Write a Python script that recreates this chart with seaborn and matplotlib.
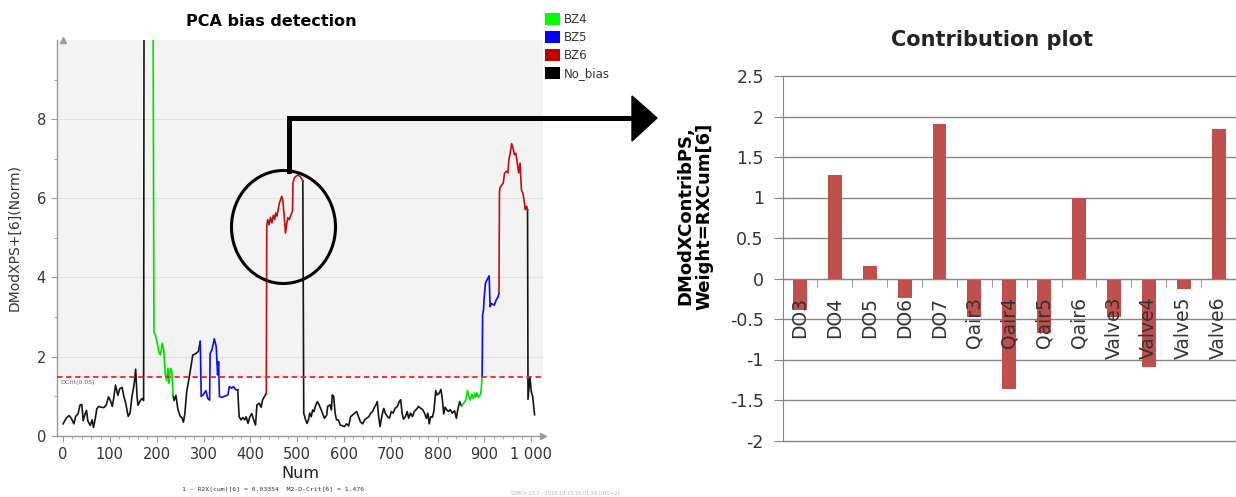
import numpy as np
import pandas as pd
import matplotlib
matplotlib.use('Agg')
import matplotlib.pyplot as plt
from matplotlib.patches import Ellipse, Polygon, Patch
import seaborn as sns

# ---- left chart: DModX line ----
seg_a_num = [0, 7, 13, 18, 23, 27, 32, 36, 40, 43, 47, 50, 53, 58, 62, 65, 69, 72, 76, 81, 87, 92, 97, 101, 105,
             108, 112, 117, 121, 126, 130, 134, 139, 143, 147, 152, 155, 158, 160, 165, 169, 172, 173]
seg_a_val = [0.30, 0.45, 0.51, 0.43, 0.30, 0.49, 0.55, 0.77, 0.79, 0.38, 0.55, 0.64, 0.37, 0.26, 0.40, 0.21, 0.45,
             0.68, 0.74, 0.72, 0.71, 0.77, 0.98, 0.89, 0.74, 0.94, 1.28, 1.02, 1.19, 1.22, 0.98, 0.81, 0.49, 0.57,
             0.98, 1.32, 1.68, 0.98, 0.77, 0.89, 0.94, 0.89, 12.0]
seg_b_num = [192, 194, 197, 201, 205, 208, 212, 215, 218, 221, 224, 226, 229, 232, 235]
seg_b_val = [12.0, 2.62, 2.55, 2.34, 2.09, 2.04, 2.34, 2.17, 1.57, 1.40, 1.70, 1.32, 1.70, 1.66, 1.02]
seg_c_num = [237, 241, 245, 250, 254, 257, 260, 264, 269, 273, 277, 283, 289, 293]
seg_c_val = [0.89, 1.02, 0.68, 0.49, 0.45, 0.34, 0.55, 1.11, 1.45, 1.74, 2.04, 2.07, 2.13, 2.38]
seg_d_num = [295, 299, 305, 309, 313, 314, 318, 323, 327, 330, 332, 334, 339, 346, 352, 355, 360, 364, 369, 373]
seg_d_val = [0.99, 1.03, 1.14, 0.94, 0.90, 2.08, 2.17, 2.45, 2.25, 1.54, 1.87, 0.99, 0.97, 1.00, 1.03, 1.24,
             1.20, 1.24, 1.16, 1.16]
seg_e_num = [376, 380, 384, 388, 391, 395, 399, 403, 407, 411, 414, 419, 423, 426, 430, 434]
seg_e_val = [0.48, 0.40, 0.46, 0.40, 0.48, 0.31, 0.48, 0.56, 0.40, 0.27, 0.78, 0.82, 0.72, 0.90, 0.99, 1.07]
seg_f_num = [435, 437, 440, 443, 446, 449, 452, 454, 457, 460, 462, 467, 469, 472, 475, 478, 480, 483, 487, 490,
             491, 494, 498, 502, 507, 510, 512]
seg_f_val = [5.29, 5.46, 5.33, 5.52, 5.38, 5.57, 5.46, 5.63, 5.55, 5.76, 5.88, 6.05, 5.97, 5.59, 5.12, 5.38,
             5.51, 5.46, 5.59, 5.67, 6.39, 6.52, 6.56, 6.59, 6.54, 6.48, 6.44]
seg_g_num = [514, 518, 521, 524, 527, 530, 533, 536, 538, 543, 546, 550, 554, 558, 563, 565, 570, 573, 575, 578,
             581, 584, 588, 592, 597, 601, 605, 610, 614, 618, 623, 627, 631, 635, 640, 644, 648, 653, 657, 661,
             665, 668, 671, 674, 677, 680, 683, 685, 688, 693, 697, 701, 705, 709, 714, 718, 721, 724, 727, 731,
             735, 738, 742, 746, 750, 755, 759, 763, 768, 772, 776, 779, 782, 785, 789, 792, 796, 799, 803, 807,
             810, 813, 816, 819, 823, 827, 831, 836, 840, 843, 847, 851]
seg_g_val = [0.57, 0.40, 0.31, 0.40, 0.57, 0.48, 0.65, 0.61, 0.72, 0.86, 0.80, 0.69, 0.57, 0.44, 0.52, 0.74,
             0.78, 0.65, 1.03, 0.99, 0.57, 0.40, 0.40, 0.27, 0.25, 0.23, 0.30, 0.25, 0.48, 0.52, 0.57, 0.61,
             0.48, 0.35, 0.30, 0.40, 0.44, 0.48, 0.57, 0.61, 0.72, 0.78, 0.86, 0.48, 0.23, 0.44, 0.61, 0.69,
             0.57, 0.48, 0.44, 0.61, 0.57, 0.69, 0.74, 0.86, 0.91, 0.57, 0.42, 0.48, 0.61, 0.44, 0.57, 0.48,
             0.61, 0.67, 0.74, 0.70, 0.66, 0.57, 0.44, 0.57, 0.30, 0.48, 0.47, 0.63, 1.14, 1.03, 1.07, 1.17,
             0.92, 0.55, 0.72, 0.66, 0.61, 0.66, 0.57, 0.63, 0.44, 0.66, 0.86, 0.75]
seg_h_num = [856, 860, 864, 867, 870, 873, 876, 879, 881, 884, 887, 891, 893, 895]
seg_h_val = [0.82, 0.90, 1.14, 0.99, 0.90, 1.05, 0.94, 1.08, 0.97, 1.08, 0.97, 1.03, 1.16, 1.50]
seg_i_num = [896, 898, 899, 902, 905, 910, 912, 915, 921, 925, 929, 931]
seg_i_val = [3.05, 3.18, 3.43, 3.85, 3.93, 4.04, 3.26, 3.34, 3.30, 3.43, 3.51, 3.60]
seg_j_num = [932, 933, 937, 940, 943, 947, 950, 952, 955, 958, 961, 964, 967, 970, 973, 976, 979, 982, 985,
             987, 990, 992]
seg_j_val = [6.17, 6.26, 6.34, 6.38, 6.64, 6.68, 6.64, 6.97, 7.14, 7.38, 7.27, 7.10, 7.14, 6.89, 6.64, 6.89,
             6.21, 6.13, 5.92, 5.71, 5.80, 5.71]
seg_k_num = [993, 997, 1000, 1003, 1007]
seg_k_val = [0.92, 1.48, 1.12, 0.98, 0.53]

segments = [('No_bias', seg_a_num, seg_a_val), ('BZ4', seg_b_num, seg_b_val), ('No_bias', seg_c_num, seg_c_val),
            ('BZ5', seg_d_num, seg_d_val), ('No_bias', seg_e_num, seg_e_val), ('BZ6', seg_f_num, seg_f_val),
            ('No_bias', seg_g_num, seg_g_val), ('BZ4', seg_h_num, seg_h_val), ('BZ5', seg_i_num, seg_i_val),
            ('BZ6', seg_j_num, seg_j_val), ('No_bias', seg_k_num, seg_k_val)]

legend_labels = ['BZ4', 'BZ5', 'BZ6', 'No_bias']
d_crit = 1.476

# ---- right chart: contribution bars ----
contrib_vars = ['DO3', 'DO4', 'DO5', 'DO6', 'DO7', 'Qair3', 'Qair4', 'Qair5', 'Qair6',
                'Valve3', 'Valve4', 'Valve5', 'Valve6']
contrib_vals = [-0.39, 1.28, 0.15, -0.24, 1.91, -0.48, -1.37, -0.67, 1.00, -0.48, -1.09, -0.13, 1.84]
contrib_ticks = [-2, -1.5, -1, -0.5, 0, 0.5, 1, 1.5, 2, 2.5]
contrib_ticklabels = ['-2', '-1.5', '-1', '-0.5', '0', '0.5', '1', '1.5', '2', '2.5']

line_colors = {'BZ4': '#00e000', 'BZ5': '#0a0aff', 'BZ6': '#c01010', 'No_bias': '#151515'}
legend_colors = {'BZ4': '#00ff00', 'BZ5': '#0000ff', 'BZ6': '#c00000', 'No_bias': '#000000'}

rows = []
prev = None
for i, (cat, xs, ys) in enumerate(segments):
    if prev is not None:
        rows.append((i, cat, prev[0], prev[1]))
    for x, y in zip(xs, ys):
        rows.append((i, cat, x, y))
    prev = (xs[-1], ys[-1])
df = pd.DataFrame(rows, columns=['seg', 'cat', 'Num', 'val'])

W, H = 1236, 497
fig = plt.figure(figsize=(W / 100, H / 100), dpi=100)

# left panel
ax1 = fig.add_axes([57 / W, 1 - 435.7 / H, (543 - 57) / W, (435.7 - 40) / H])
ax1.set_facecolor('white')
ax1.axhspan(d_crit, 10, color='#f3f3f3', lw=0, zorder=0)
for g in [2, 4, 6, 8]:
    ax1.axhline(g, color='#e2e2e2', lw=0.8, zorder=0.5)
sns.lineplot(data=df, x='Num', y='val', hue='cat', units='seg', estimator=None, sort=False,
             palette=line_colors, lw=1.2, legend=False, ax=ax1)
ax1.axhline(d_crit, color='#ff2020', lw=1.3, ls=(0, (3, 2)), zorder=3)
ax1.text(3 / 486, d_crit - 0.08, 'DCrit(0.05)', transform=ax1.get_yaxis_transform(),
         fontsize=4.5, color='#7a5a7a', va='top', ha='left')
ax1.set_xlim(-13, 1025)
ax1.set_ylim(0, 10)
ax1.set_xticks(np.arange(0, 1001, 100))
ax1.set_xticklabels([str(v) if v < 1000 else '1 000' for v in range(0, 1001, 100)])
ax1.set_xticks(np.arange(0, 1001, 20), minor=True)
ax1.set_yticks([0, 2, 4, 6, 8])
ax1.set_yticks(np.arange(0, 10, 1), minor=True)
for s in ['top', 'right']:
    ax1.spines[s].set_visible(False)
for s in ['left', 'bottom']:
    ax1.spines[s].set_color('#9a9a9a')
    ax1.spines[s].set_linewidth(1)
ax1.tick_params(which='major', length=4, color='#9a9a9a', labelsize=10.5, labelcolor='#333333', pad=4)
ax1.tick_params(which='minor', length=2.5, color='#9a9a9a')
ax1.plot(1, 0, '>', color='#9a9a9a', ms=4, transform=ax1.get_yaxis_transform(), clip_on=False)
ax1.plot(0, 1, '^', color='#9a9a9a', ms=4, transform=ax1.get_xaxis_transform(), clip_on=False)
ax1.set_xlabel('Num', fontsize=11.5, color='#222222', labelpad=3)
ax1.set_ylabel('DModXPS+[6](Norm)', fontsize=10, color='#333333', labelpad=11)
fig.text(271 / W, 1 - 22 / H, 'PCA bias detection', fontsize=11.5, fontweight='bold',
         ha='center', va='center')
fig.text(273 / W, 1 - 490 / H, '1 - R2X(cum)[6] = 0.03354  M2-D-Crit[6] = 1.476',
         family='monospace', fontsize=4.6, ha='center', va='center', color='#333333')
fig.text(565 / W, 1 - 493 / H, 'SIMCA 13.0 - 2016.10.15 16:01:59 (UTC+2)',
         fontsize=3.6, ha='center', va='center', color='#b5b5b5')
handles = [Patch(facecolor=legend_colors[c], edgecolor='none', label=c) for c in legend_labels]
fig.legend(handles=handles, loc='upper left', bbox_to_anchor=(545 / W, 1 - 13 / H), frameon=False,
           fontsize=8.5, handlelength=1.25, handleheight=1.2, handletextpad=0.35, labelspacing=0.42,
           borderpad=0, borderaxespad=0, labelcolor='#333333')

# right panel
ax2 = fig.add_axes([782.5 / W, 1 - 440.5 / H, (W - 782.5) / W, (440.5 - 76) / H])
for t in contrib_ticks:
    ax2.axhline(t, color='#868686', lw=1, zorder=0.3, clip_on=False)
sns.barplot(x=contrib_vars, y=contrib_vals, color='#c0504d', saturation=1, width=0.4, ax=ax2, zorder=1)
ax2.set_xlim(-0.5, 12.5)
ax2.set_ylim(-2, 2.5)
ax2.set_yticks(contrib_ticks)
ax2.set_yticklabels(contrib_ticklabels)
ax2.set_xticks(np.arange(0.5, 12.5, 1), minor=True)
for s in ['top', 'right']:
    ax2.spines[s].set_visible(False)
ax2.spines['bottom'].set_position(('data', 0))
ax2.spines['bottom'].set_color('#868686')
ax2.spines['left'].set_color('#868686')
ax2.tick_params(axis='y', length=6.5, color='#868686', labelsize=12.5, labelcolor='#333333', pad=7)
ax2.tick_params(axis='x', which='major', length=0, pad=13, labelrotation=90, labelsize=13.5,
                labelcolor='#333333')
ax2.tick_params(axis='x', which='minor', length=6, color='#868686')
ax2.set_xlabel('')
ax2.set_ylabel('')
fig.text(992 / W, 1 - 40 / H, 'Contribution plot', fontsize=15, fontweight='bold',
         ha='center', va='center', color='#222222')
fig.text(695 / W, 1 - 216 / H, 'DModXContribPS,\nWeight=RXCum[6]', fontsize=13, fontweight='bold',
         rotation=90, ha='center', va='center', multialignment='center', linespacing=1.05)

# callout: circle round the first BZ6 excursion and arrow to the contribution plot
ov = fig.add_axes([0, 0, 1, 1])
ov.set_xlim(0, W)
ov.set_ylim(H, 0)
ov.axis('off')
ov.set_zorder(5)
ov.add_patch(Ellipse((283.5, 227), 104, 113, fill=False, edgecolor='black', lw=2.2))
ov.plot([288.5, 288.5, 634], [171, 118, 118], color='black', lw=3.6, solid_capstyle='projecting',
        solid_joinstyle='miter')
ov.add_patch(Polygon([(632, 96), (657, 118), (632, 141)], closed=True, color='black'))

fig.savefig('out.png', dpi=100)
